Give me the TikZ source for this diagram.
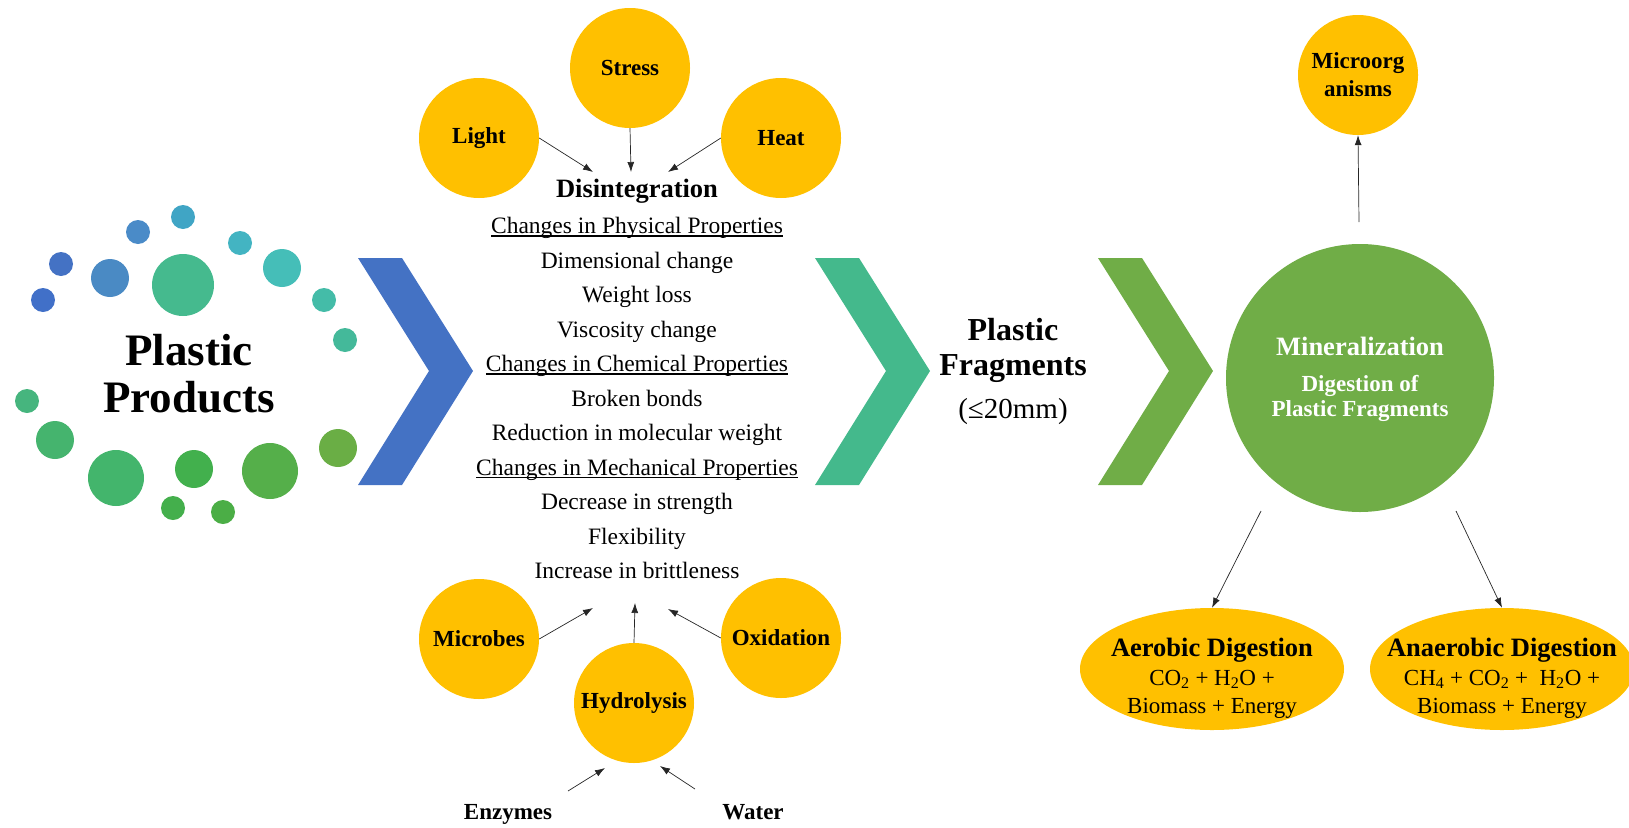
\documentclass[tikz,border=0pt]{standalone}
\usepackage{fontspec}
\setmainfont{Liberation Serif}
\usetikzlibrary{arrows.meta,shapes.geometric}
\definecolor{gold}{HTML}{FFC000}
\definecolor{cblue}{HTML}{4472C4}
\definecolor{cteal}{HTML}{44B98C}
\definecolor{cgreen}{HTML}{70AD47}
\newcommand\myul[1]{\setbox0\hbox{#1}\rlap{\rule[-3pt]{\wd0}{1.1pt}}#1}
\tikzset{
  ycirc/.style={circle, fill=gold, minimum size=120pt, inner sep=0pt, align=center,
    font=\bfseries\fontsize{23}{28}\selectfont},
  arr/.style={-{Latex[length=10pt,width=7pt]}, line width=0.7pt, black!85},
  listline/.style={font=\rmfamily\fontsize{23.5}{28}\selectfont, text height=16pt, text depth=5pt, inner sep=0pt},
  ell/.style={ellipse, fill=gold, minimum width=264pt, minimum height=122pt, inner sep=0pt, align=center},
}
\begin{document}
\begin{tikzpicture}[x=1pt,y=-1pt]
\useasboundingbox (0,0) rectangle (1629,827);
% ---------- dots ----------
\foreach \x/\y/\r/\c in {61/264/12/4472C4, 43/300/12/4170C8, 138/232/12/4A8BC8, 183/217/12/40A5C5,
  110/278/19/4A8AC4, 183/285/31/45BA8E, 240/243/12/43B4C2, 282/268/19/45BEB8, 324/300/12/44BCA8,
  345/340/12/44B99A, 27/401/12/46B57E, 55/440/19/45B46E, 116/478/28/43B56C, 194/469/19/42B04D,
  270/471/28/55AF4A, 338/448/19/6AAE45, 173/508/12/44AF4C, 223/512/12/4BAE46}
  {\definecolor{tmpc}{HTML}{\c}\fill[tmpc] (\x,\y) circle[radius=\r pt];}
\node[align=center, font=\bfseries\fontsize{45}{47}\selectfont] (pp) at (189,374) {Plastic\\Products};
% ---------- chevrons ----------
\foreach \X/\c in {358/cblue, 815/cteal, 1098/cgreen}
  \fill[\c] (\X,258) -- (\X+44,258) -- (\X+115,371) -- (\X+44,485) -- (\X,485) -- (\X+71,371) -- cycle;
% ---------- top factors ----------
\node[ycirc] (light) at (479,138) {Light};
\node[ycirc] (stress) at (630,68) {Stress};
\node[ycirc] (heat) at (781,138) {Heat};
\coordinate (tl) at (593,172);
\coordinate (ts) at (631,172);
\coordinate (th) at (668,172);
\draw[arr] (light.east) -- (tl);
\draw[arr] (stress.south) -- (ts);
\draw[arr] (heat.west) -- (th);
\node[font=\bfseries\fontsize{26.5}{30}\selectfont] (dis) at (637,191) {Disintegration};
% ---------- list ----------
\foreach \t [count=\i] in {\myul{Changes in Physical Properties}, Dimensional change, Weight loss,
  Viscosity change, \myul{Changes in Chemical Properties}, Broken bonds, Reduction in molecular weight,
  \myul{Changes in Mechanical Properties}, Decrease in strength, Flexibility, Increase in brittleness}
  \node[listline] (l\i) at (637,{228+34.5*(\i-1)}) {\t};
% ---------- bottom factors ----------
\node[ycirc] (microbes) at (479,639) {Microbes};
\node[ycirc] (hydro) at (634,703) {Hydrolysis};
\node[ycirc] (oxid) at (781,638) {Oxidation};
\coordinate (bm) at (593,608);
\coordinate (bh) at (635,603);
\coordinate (bo) at (668,609);
\draw[arr] (microbes.east) -- (bm);
\draw[arr] (hydro.north) -- (bh);
\draw[arr] (oxid.west) -- (bo);
\node[anchor=base, font=\bfseries\fontsize{23}{26}\selectfont] (enz) at (508,819) {Enzymes};
\node[anchor=base, font=\bfseries\fontsize{23}{26}\selectfont] (water) at (753,819) {Water};
\coordinate (es) at (568,791);
\coordinate (ee) at (605,768);
\coordinate (ws) at (695,789);
\coordinate (we) at (660,766);
\draw[arr] (es) -- (ee);
\draw[arr] (ws) -- (we);
% ---------- fragments ----------
\node[align=center, font=\bfseries\fontsize{32}{35}\selectfont] (frag) at (1013,350) {Plastic\\Fragments};
\node[font=\fontsize{29}{32}\selectfont] (size) at (1013,412) {(≤20mm)};
% ---------- mineralization ----------
\node[circle, fill=cgreen, minimum size=268pt, inner sep=0pt] (min) at (1360,378) {};
\node[text=white, font=\bfseries\fontsize{26.5}{30}\selectfont] (mint) at (1360,346) {Mineralization};
\node[text=white, align=center, font=\bfseries\fontsize{23}{25}\selectfont] (dig) at (1360,398) {Digestion of\\Plastic Fragments};
\node[ycirc] (micro) at (1358,75) {Microorg\\anisms};
\coordinate (ms) at (1359,222);
\draw[arr] (ms) -- (micro.south);
% ---------- digestion ----------
\node[ell] (aer) at (1212,669) {};
\node[ell] (ana) at (1502,669) {};
\node[align=center, font=\fontsize{23}{28}\selectfont] (aert) at (1212,678)
  {{\bfseries\fontsize{26.5}{30}\selectfont Aerobic Digestion}\\[1pt]CO\textsubscript{2} + H\textsubscript{2}O +\\Biomass + Energy};
\node[align=center, font=\fontsize{23}{28}\selectfont] (anat) at (1502,678)
  {{\bfseries\fontsize{26.5}{30}\selectfont Anaerobic Digestion}\\[1pt]CH\textsubscript{4} + CO\textsubscript{2} + \ H\textsubscript{2}O +\\Biomass + Energy};
\coordinate (as) at (1261,511);
\coordinate (bs) at (1456,511);
\draw[arr] (as) -- (aer.north);
\draw[arr] (bs) -- (ana.north);
\end{tikzpicture}
\end{document}
